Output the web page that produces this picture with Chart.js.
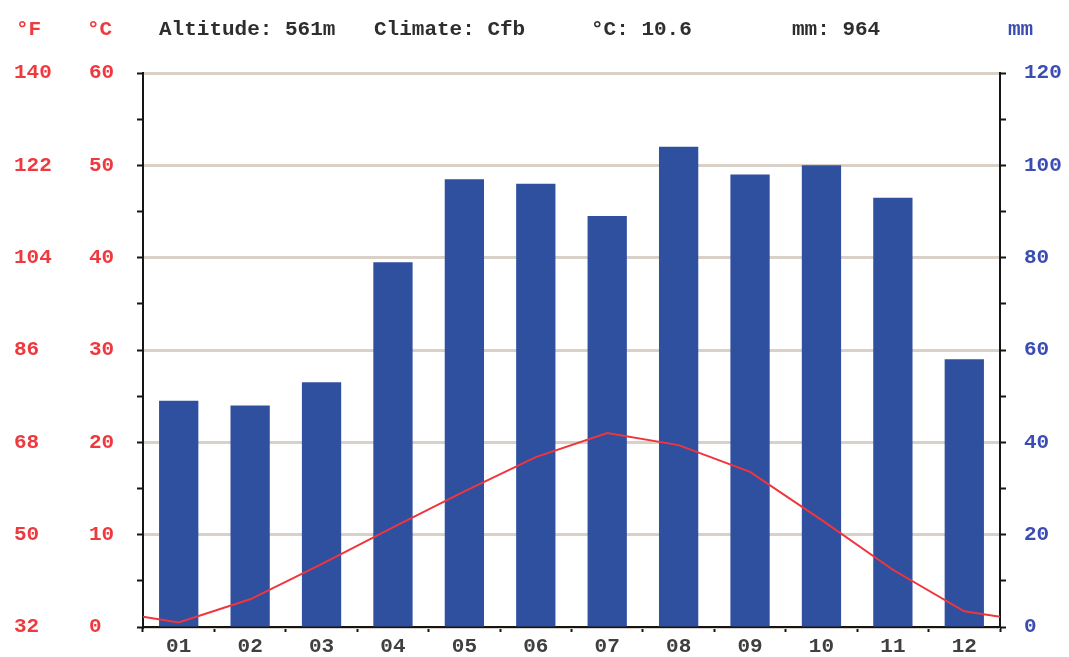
<!DOCTYPE html>
<html>
<head>
<meta charset="utf-8">
<script src="https://cdn.jsdelivr.net/npm/chart.js@4.4.1/dist/chart.umd.min.js"></script>
<style>
  html, body { margin: 0; padding: 0; background: #ffffff; }
  #wrap { width: 1069px; height: 657px; position: relative; }
</style>
</head>
<body>
<div id="wrap"><canvas id="climate"></canvas></div>
<script>
// Monthly climate normals
const months = ['01', '02', '03', '04', '05', '06', '07', '08', '09', '10', '11', '12'];
const precipMm = [49, 48, 53, 79, 97, 96, 89, 104, 98, 100, 93, 58];
const tempC = [0.5, 3.0, 6.8, 10.8, 14.7, 18.4, 21.0, 19.7, 16.8, 11.6, 6.2, 1.7];
// temperature at the year boundary (start of January, end of December)
const tempYearEdgeC = [1.1, 1.1];

// labelled axis values
const celsiusTicks = [0, 10, 20, 30, 40, 50, 60];
const fahrenheitTicks = [32, 50, 68, 86, 104, 122, 140];
const mmTicks = [0, 20, 40, 60, 80, 100, 120];

// station summary
const altitude = '561m';
const climate = 'Cfb';
const meanTempC = '10.6';
const totalPrecipMm = '964';

const RED = '#ee3a3e';
const BLUE = '#3b4db3';
const BAR = '#2f4f9f';
const GRID = '#d9d0c7';
const AXIS = '#151515';
const FONT = "'Liberation Mono', 'DejaVu Sans Mono', monospace";
const tickFont = { family: FONT, size: 21, weight: 'bold' };

const linePoints = [{ x: 0.5, y: tempYearEdgeC[0] }]
  .concat(tempC.map((t, i) => ({ x: i + 1, y: t })))
  .concat([{ x: 12.5, y: tempYearEdgeC[1] }]);

// station header line above the plot
const headerPlugin = {
  id: 'header',
  afterDraw(chart) {
    const ctx = chart.ctx;
    ctx.save();
    ctx.textBaseline = 'alphabetic';
    ctx.textAlign = 'left';
    const y = 35;
    ctx.font = `bold 21px ${FONT}`;
    ctx.fillStyle = RED;
    ctx.fillText('°F', 16, y);
    ctx.fillText('°C', 87, y);
    ctx.fillStyle = '#2e2e2e';
    ctx.fillText(`Altitude: ${altitude}`, 159, y);
    ctx.fillText(`Climate: ${climate}`, 374, y);
    ctx.fillText(`°C: ${meanTempC}`, 591, y);
    ctx.fillText(`mm: ${totalPrecipMm}`, 792, y);
    ctx.fillStyle = BLUE;
    ctx.fillText('mm', 1008, y);
    ctx.restore();
  }
};

new Chart(document.getElementById('climate'), {
  type: 'bar',
  data: {
    labels: months,
    datasets: [
      {
        type: 'line',
        label: 'Temperature',
        data: linePoints,
        xAxisID: 'xl',
        yAxisID: 'yC',
        borderColor: '#f0353d',
        borderWidth: 2,
        pointRadius: 0,
        tension: 0,
        fill: false,
        order: 0
      },
      {
        type: 'bar',
        label: 'Precipitation',
        data: precipMm,
        xAxisID: 'x',
        yAxisID: 'yMm',
        backgroundColor: BAR,
        borderWidth: 0,
        grouped: false,
        categoryPercentage: 1,
        barPercentage: 0.55,
        order: 1
      }
    ]
  },
  options: {
    responsive: true,
    maintainAspectRatio: false,
    animation: false,
    devicePixelRatio: 1,
    layout: { padding: { left: 14, top: 73, right: 0, bottom: 0 } },
    plugins: { legend: { display: false }, tooltip: { enabled: false } },
    scales: {
      x: {
        type: 'category',
        position: 'bottom',
        offset: true,
        grid: { display: true, drawOnChartArea: false, offset: true, tickLength: 5, tickColor: AXIS, tickWidth: 2 },
        border: { display: true, color: AXIS, width: 2 },
        ticks: { color: '#404040', font: tickFont, padding: 2, maxRotation: 0, autoSkip: false },
        afterFit(s) { s.height = 30; s.paddingLeft = 0; s.paddingRight = 0; }
      },
      xl: { type: 'linear', min: 0.5, max: 12.5, offset: false, display: false },
      yC: {
        type: 'linear',
        position: 'left',
        weight: 0,
        min: 0,
        max: 60,
        ticks: {
          stepSize: 5,
          autoSkip: false,
          crossAlign: 'far',
          color: RED,
          font: tickFont,
          callback: v => (celsiusTicks.includes(v) ? String(v) : '')
        },
        grid: {
          color: c => (c.tick && celsiusTicks.includes(c.tick.value) ? GRID : 'rgba(0,0,0,0)'),
          lineWidth: 3,
          tickLength: 6,
          tickColor: AXIS,
          tickWidth: 2
        },
        border: { display: true, color: AXIS, width: 2 },
        afterFit(s) { s.width = 54; s.paddingTop = 0; s.paddingBottom = 0; }
      },
      yF: {
        type: 'linear',
        position: 'left',
        weight: 10,
        min: 32,
        max: 140,
        ticks: {
          stepSize: 18,
          autoSkip: false,
          crossAlign: 'far',
          color: RED,
          font: tickFont,
          callback: v => (fahrenheitTicks.includes(v) ? String(v) : '')
        },
        grid: { display: false },
        border: { display: false },
        afterFit(s) { s.width = 75; s.paddingTop = 0; s.paddingBottom = 0; }
      },
      yMm: {
        type: 'linear',
        position: 'right',
        min: 0,
        max: 120,
        ticks: {
          stepSize: 10,
          autoSkip: false,
          crossAlign: 'near',
          padding: 18,
          color: BLUE,
          font: tickFont,
          callback: v => (mmTicks.includes(v) ? String(v) : '')
        },
        grid: { drawOnChartArea: false, tickLength: 6, tickColor: AXIS, tickWidth: 2 },
        border: { display: true, color: AXIS, width: 2 },
        afterFit(s) { s.width = 69; s.paddingTop = 0; s.paddingBottom = 0; }
      }
    }
  },
  plugins: [headerPlugin]
});
</script>
</body>
</html>
